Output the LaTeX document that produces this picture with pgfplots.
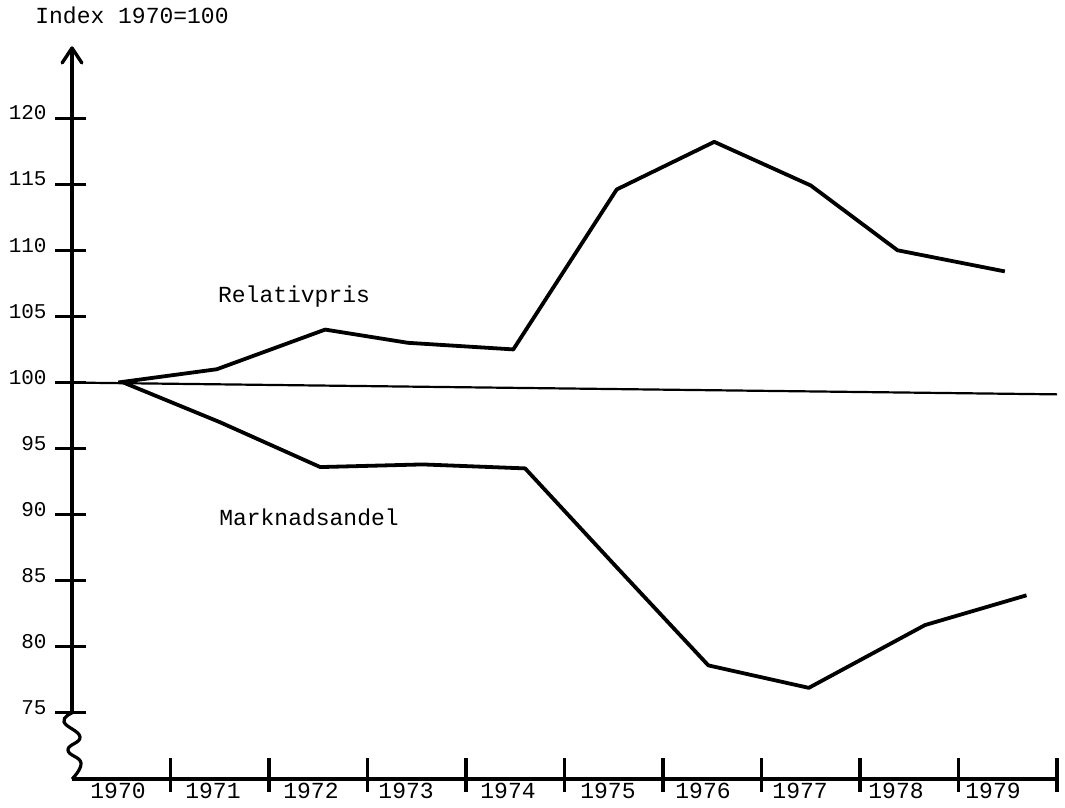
\documentclass[border=0pt]{standalone}
\usepackage{fontspec}
\setmainfont{Liberation Mono}
\usepackage{pgfplots}
\pgfplotsset{compat=1.18}
\tikzset{yr/.style={anchor=west, inner sep=0pt, font=\fontsize{11.5}{13}\selectfont}}
\begin{document}
\begin{tikzpicture}
\begin{axis}[x=49.25pt, y=6.61pt, xmin=0, xmax=10, ymin=70, ymax=125.2,
  axis lines=none, clip=false]
\path (axis cs:-0.731,67.82) rectangle (axis cs:10.081,128.93);
% reference line at 100
\addplot[black, line width=1.1pt] coordinates {(-0.09,100.0) (10.0,99.1)};
% Relativpris
\addplot[black, line width=1.9pt, line join=round] coordinates {
 (0.47,100.0) (1.47,101.0) (2.57,104.0) (3.41,103.0) (4.48,102.5)
 (5.53,114.6) (6.52,118.2) (7.50,114.9) (8.38,110.0) (9.47,108.4)};
% Marknadsandel
\addplot[black, line width=1.9pt, line join=round] coordinates {
 (0.52,100.0) (1.50,97.0) (2.52,93.6) (3.56,93.8) (4.60,93.5)
 (5.52,86.1) (6.46,78.6) (7.48,76.9) (8.66,81.65) (9.69,83.9)};
% axis decorations
\draw[line width=1.7pt] (axis cs:0,75) -- (axis cs:0,125.3);
\draw[line width=1.7pt, line join=round, line cap=round] (axis cs:-0.1,124.17) -- (axis cs:0,125.3) -- (axis cs:0.1,124.17);
\addplot[black, line width=1.6pt, smooth, tension=0.8] coordinates {
 (0,75.0) (-0.081,74.32) (0.081,73.19) (-0.041,72.2) (0.091,71.22) (0,70.0)};
\draw[line width=1.7pt] (axis cs:0,70) -- (axis cs:10.01,70);
\pgfplotsinvokeforeach{1,...,10}{\draw[line width=1.7pt] (axis cs:#1,69.02) -- (axis cs:#1,71.59);}
\pgfplotsinvokeforeach{75,80,...,120}{\draw[line width=1.5pt] (axis cs:-0.173,#1) -- (axis cs:0.142,#1);
  \node[anchor=east, inner sep=0pt, yshift=2.5pt, font=\fontsize{10.5}{12}\selectfont] at (axis cs:-0.254,#1) {#1};}
% year labels
\node[yr] at (axis cs:0.183,69.1) {1970};
\node[yr] at (axis cs:1.147,69.1) {1971};
\node[yr] at (axis cs:2.142,69.1) {1972};
\node[yr] at (axis cs:3.107,69.1) {1973};
\node[yr] at (axis cs:4.142,69.1) {1974};
\node[yr] at (axis cs:5.157,69.1) {1975};
\node[yr] at (axis cs:6.122,69.1) {1976};
\node[yr] at (axis cs:7.107,69.1) {1977};
\node[yr] at (axis cs:8.081,69.1) {1978};
\node[yr] at (axis cs:9.066,69.1) {1979};
% texts
\node[anchor=west, inner sep=0pt, font=\fontsize{11.5}{13}\selectfont] at (axis cs:-0.376,127.8) {Index 1970=100};
\node[anchor=center, inner sep=0pt, font=\fontsize{11.5}{13}\selectfont] at (axis cs:2.254,106.47) {Relativpris};
\node[anchor=center, inner sep=0pt, font=\fontsize{11.5}{13}\selectfont] at (axis cs:2.406,89.83) {Marknadsandel};
\end{axis}
\end{tikzpicture}
\end{document}
